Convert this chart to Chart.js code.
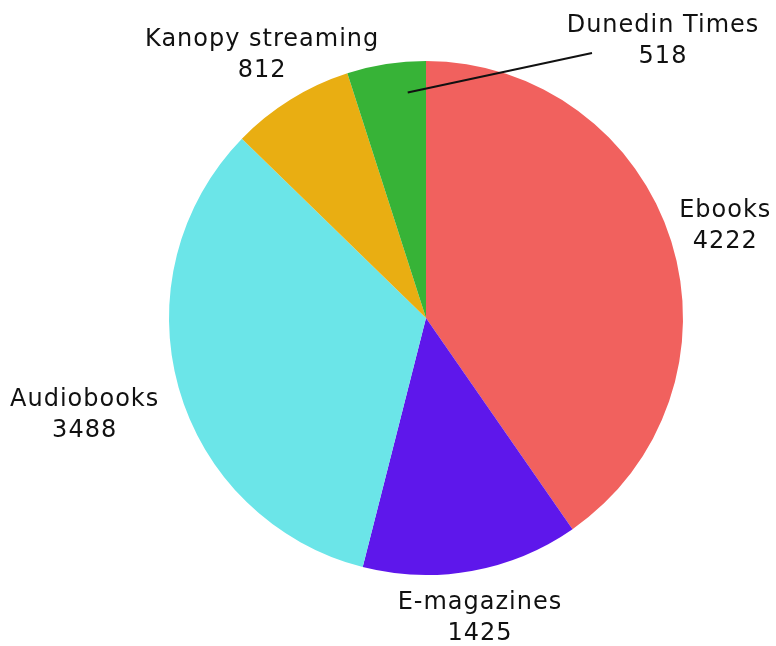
<!DOCTYPE html>
<html>
<head>
<meta charset="utf-8">
<script src="https://cdn.jsdelivr.net/npm/chart.js@4"></script>
<style>
  html, body { margin: 0; padding: 0; background: #fff; }
  #wrap { width: 776px; height: 646px; }
</style>
</head>
<body>
<div id="wrap"><canvas id="pie" width="776" height="646"></canvas></div>
<script>
// ── Data ──
const labels = ['Ebooks', 'E-magazines', 'Audiobooks', 'Kanopy streaming', 'Dunedin Times'];
const values = [4222, 1425, 3488, 812, 518];
const colors = ['#F1615E', '#5E17EB', '#6BE5E8', '#E9AE12', '#37B337'];

// label distance from centre, as a share of the radius
const labelDist = [1.22, 1.18, 1.38, 1.21, null];
// Dunedin Times sits off to the side with a leader line
const LEADER = { along: 0.74, from: 0.88, dx: 237, dy: -278, lineEndDx: 166, lineEndDy: -265 };

const FONT = '24px "DejaVu Sans", sans-serif';

// ── Outside labels ──
const outsideLabels = {
    id: 'outsideLabels',
    afterDatasetsDraw(chart) {
        const ctx = chart.ctx;
        const meta = chart.getDatasetMeta(0);
        ctx.save();
        ctx.font = FONT;
        ctx.letterSpacing = '1px';
        ctx.fillStyle = '#111';
        ctx.textAlign = 'center';
        ctx.textBaseline = 'middle';
        meta.data.forEach((arc, i) => {
            const { x, y, outerRadius, startAngle, endAngle } = arc.getProps(['x', 'y', 'outerRadius', 'startAngle', 'endAngle'], true);
            const mid = (startAngle + endAngle) / 2;
            let cx, cy;
            if (labelDist[i] == null) {
                const a = startAngle + (endAngle - startAngle) * LEADER.along;
                const px = x + Math.cos(a) * outerRadius * LEADER.from;
                const py = y + Math.sin(a) * outerRadius * LEADER.from;
                ctx.strokeStyle = '#111';
                ctx.lineWidth = 2;
                ctx.beginPath();
                ctx.moveTo(px, py);
                ctx.lineTo(x + LEADER.lineEndDx, y + LEADER.lineEndDy);
                ctx.stroke();
                cx = x + LEADER.dx;
                cy = y + LEADER.dy;
            } else {
                cx = x + Math.cos(mid) * outerRadius * labelDist[i];
                cy = y + Math.sin(mid) * outerRadius * labelDist[i];
            }
            ctx.fillText(labels[i], cx, cy - 14);
            ctx.fillText(String(values[i]), cx, cy + 17);
        });
        ctx.restore();
    }
};

new Chart(document.getElementById('pie').getContext('2d'), {
    type: 'pie',
    data: {
        labels,
        datasets: [{
            data: values,
            backgroundColor: colors,
            borderWidth: 0,
        }],
    },
    options: {
        responsive: false,
        animation: false,
        layout: { padding: { left: 169, right: 93, top: 61, bottom: 71 } },
        plugins: {
            legend: { display: false },
            tooltip: { enabled: false },
        },
    },
    plugins: [outsideLabels],
});
</script>
</body>
</html>
